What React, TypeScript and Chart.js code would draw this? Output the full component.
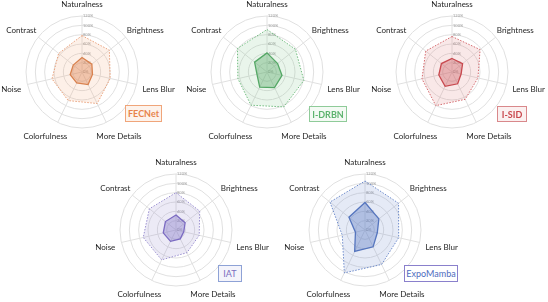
import React, { useEffect, useRef } from "react";
import { Chart, registerables } from "chart.js";

Chart.register(...registerables);

const categories = ["Naturalness", "Brightness", "Lens Blur", "More Details", "Colorfulness", "Noise", "Contrast"];
const scaleMin = 0;
const scaleMax = 120;
const scaleStep = 20;

const fecnetOuter = [78, 75, 62, 75, 68, 66, 64];
const fecnetInner = [31, 27, 23, 30, 26, 26, 24];
const idrbnOuter = [91, 78, 81, 83, 79, 64, 81];
const idrbnInner = [41, 29, 33, 37, 36, 22, 34];
const isidOuter = [76, 77, 57, 65, 80, 66, 72];
const isidInner = [29, 29, 20, 28, 34, 29, 29];
const iatOuter = [80, 65, 51, 54, 71, 72, 73];
const iatInner = [32, 25, 17, 21, 27, 28, 29];
const expoOuter = [105, 92, 74, 82, 102, 50, 96];
const expoInner = [59, 38, 27, 40, 51, 21, 44];

type Panel = {
  name: string;
  outer: number[];
  inner: number[];
  cx: number;
  cy: number;
  outerLine: string;
  outerFill: string;
  innerLine: string;
  innerFill: string;
  box: { left: number; top: number; w: number; h: number; color: string; border: string; bg: string; bold: boolean };
};

const panels: Panel[] = [
  {
    name: "FECNet", outer: fecnetOuter, inner: fecnetInner, cx: 82, cy: 72,
    outerLine: "#E9A07A", outerFill: "rgba(240,160,115,0.16)", innerLine: "#D9824F", innerFill: "rgba(222,130,80,0.40)",
    box: { left: 125, top: 105, w: 37, h: 17, color: "#E8834A", border: "#F0A57A", bg: "#FDF3EC", bold: true },
  },
  {
    name: "I-DRBN", outer: idrbnOuter, inner: idrbnInner, cx: 267, cy: 72,
    outerLine: "#72BC80", outerFill: "rgba(120,190,130,0.16)", innerLine: "#55A866", innerFill: "rgba(90,170,105,0.40)",
    box: { left: 309, top: 106, w: 38, h: 16, color: "#5DB36E", border: "#8FCB99", bg: "#F4FAF4", bold: true },
  },
  {
    name: "I-SID", outer: isidOuter, inner: isidInner, cx: 452, cy: 72,
    outerLine: "#D46A6E", outerFill: "rgba(215,110,115,0.16)", innerLine: "#C8494F", innerFill: "rgba(205,90,95,0.38)",
    box: { left: 497, top: 106, w: 30, h: 16, color: "#C9474D", border: "#D9888B", bg: "#FBF0F0", bold: true },
  },
  {
    name: "IAT", outer: iatOuter, inner: iatInner, cx: 176, cy: 230,
    outerLine: "#9A8FD0", outerFill: "rgba(150,140,205,0.18)", innerLine: "#7B6BC2", innerFill: "rgba(130,115,200,0.38)",
    box: { left: 218, top: 265, w: 24, h: 17, color: "#7B6DC0", border: "#8EA2D6", bg: "#F4F4FB", bold: false },
  },
  {
    name: "ExpoMamba", outer: expoOuter, inner: expoInner, cx: 365, cy: 230,
    outerLine: "#6F8CCB", outerFill: "rgba(110,140,205,0.18)", innerLine: "#5575BE", innerFill: "rgba(90,120,195,0.38)",
    box: { left: 404, top: 265, w: 54, h: 17, color: "#4E6CC0", border: "#8A80CC", bg: "#FFFFFF", bold: false },
  },
];

const FONT = "Lato, 'Open Sans', sans-serif";

const radarTextPlugin = {
  id: "radarText",
  beforeDatasetsDraw(chart: any) {
    const s = chart.scales.r;
    const ctx = chart.ctx;
    ctx.save();
    ctx.font = `4px ${FONT}`;
    ctx.fillStyle = "#a0a0a0";
    ctx.textAlign = "left";
    ctx.textBaseline = "middle";
    s.ticks.forEach((t: any) => {
      const d = s.getDistanceFromCenterForValue(t.value);
      ctx.fillText(`${t.value}%`, s.xCenter + 1, s.yCenter - d);
    });
    ctx.restore();
  },
  afterDraw(chart: any) {
    const s = chart.scales.r;
    const ctx = chart.ctx;
    const labels: string[] = chart.data.labels;
    const R = s.drawingArea;
    const dist = R + 6.5;
    ctx.save();
    ctx.font = `8px ${FONT}`;
    ctx.fillStyle = "#1f1f1f";
    ctx.textAlign = "center";
    ctx.textBaseline = "middle";
    labels.forEach((lab, i) => {
      const p = s.getPointPosition(i, dist);
      const ux = (p.x - s.xCenter) / dist;
      const uy = (p.y - s.yCenter) / dist;
      const w = ctx.measureText(lab).width;
      const h = 9;
      ctx.fillText(lab, p.x + (ux * w) / 2, p.y + uy * (h / 2 + 2.5) + 2);
    });
    ctx.restore();
  },
};

const CW = 200;
const CH = 160;

function RadarPanel({ p }: { p: Panel }) {
  const ref = useRef<HTMLCanvasElement | null>(null);
  useEffect(() => {
    if (!ref.current) return;
    const chart = new Chart(ref.current, {
      type: "radar",
      data: {
        labels: categories,
        datasets: [
          {
            data: p.inner,
            borderColor: p.innerLine,
            backgroundColor: p.innerFill,
            borderWidth: 1.3,
            fill: true,
            pointRadius: 0,
          },
          {
            data: p.outer,
            borderColor: p.outerLine,
            backgroundColor: p.outerFill,
            borderWidth: 1,
            borderDash: [1.5, 1.5],
            fill: true,
            pointRadius: 0,
          },
        ],
      },
      options: {
        responsive: false,
        animation: false,
        devicePixelRatio: 1,
        layout: { padding: { left: 44, right: 44, top: 24, bottom: 24 } },
        plugins: { legend: { display: false }, tooltip: { enabled: false } },
        elements: { line: { tension: 0 } },
        scales: {
          r: {
            min: scaleMin,
            max: scaleMax,
            ticks: { stepSize: scaleStep, display: false },
            grid: { circular: true, color: "#e0e0e0", lineWidth: 1 },
            angleLines: { color: "#e0e0e0", lineWidth: 1 },
            pointLabels: { display: false },
          },
        },
      } as any,
      plugins: [radarTextPlugin],
    });
    return () => chart.destroy();
  }, [p]);
  return (
    <div style={{ position: "absolute", left: p.cx - CW / 2, top: p.cy - CH / 2, width: CW, height: CH }}>
      <canvas ref={ref} width={CW} height={CH} style={{ width: CW, height: CH }} />
    </div>
  );
}

export default function App() {
  return (
    <div style={{ position: "fixed", left: 0, top: 0, width: 548, height: 302, background: "#fff", overflow: "hidden" }}>
      {panels.map((p) => (
        <RadarPanel key={p.name} p={p} />
      ))}
      {panels.map((p) => (
        <div
          key={p.name + "-box"}
          style={{
            position: "absolute",
            left: p.box.left,
            top: p.box.top,
            width: p.box.w,
            height: p.box.h,
            boxSizing: "border-box",
            border: `1.5px solid ${p.box.border}`,
            background: p.box.bg,
            color: p.box.color,
            fontFamily: FONT,
            fontWeight: p.box.bold ? 700 : 400,
            fontSize: 9,
            display: "flex",
            alignItems: "center",
            justifyContent: "center",
            whiteSpace: "nowrap",
          }}
        >
          {p.name}
        </div>
      ))}
    </div>
  );
}
